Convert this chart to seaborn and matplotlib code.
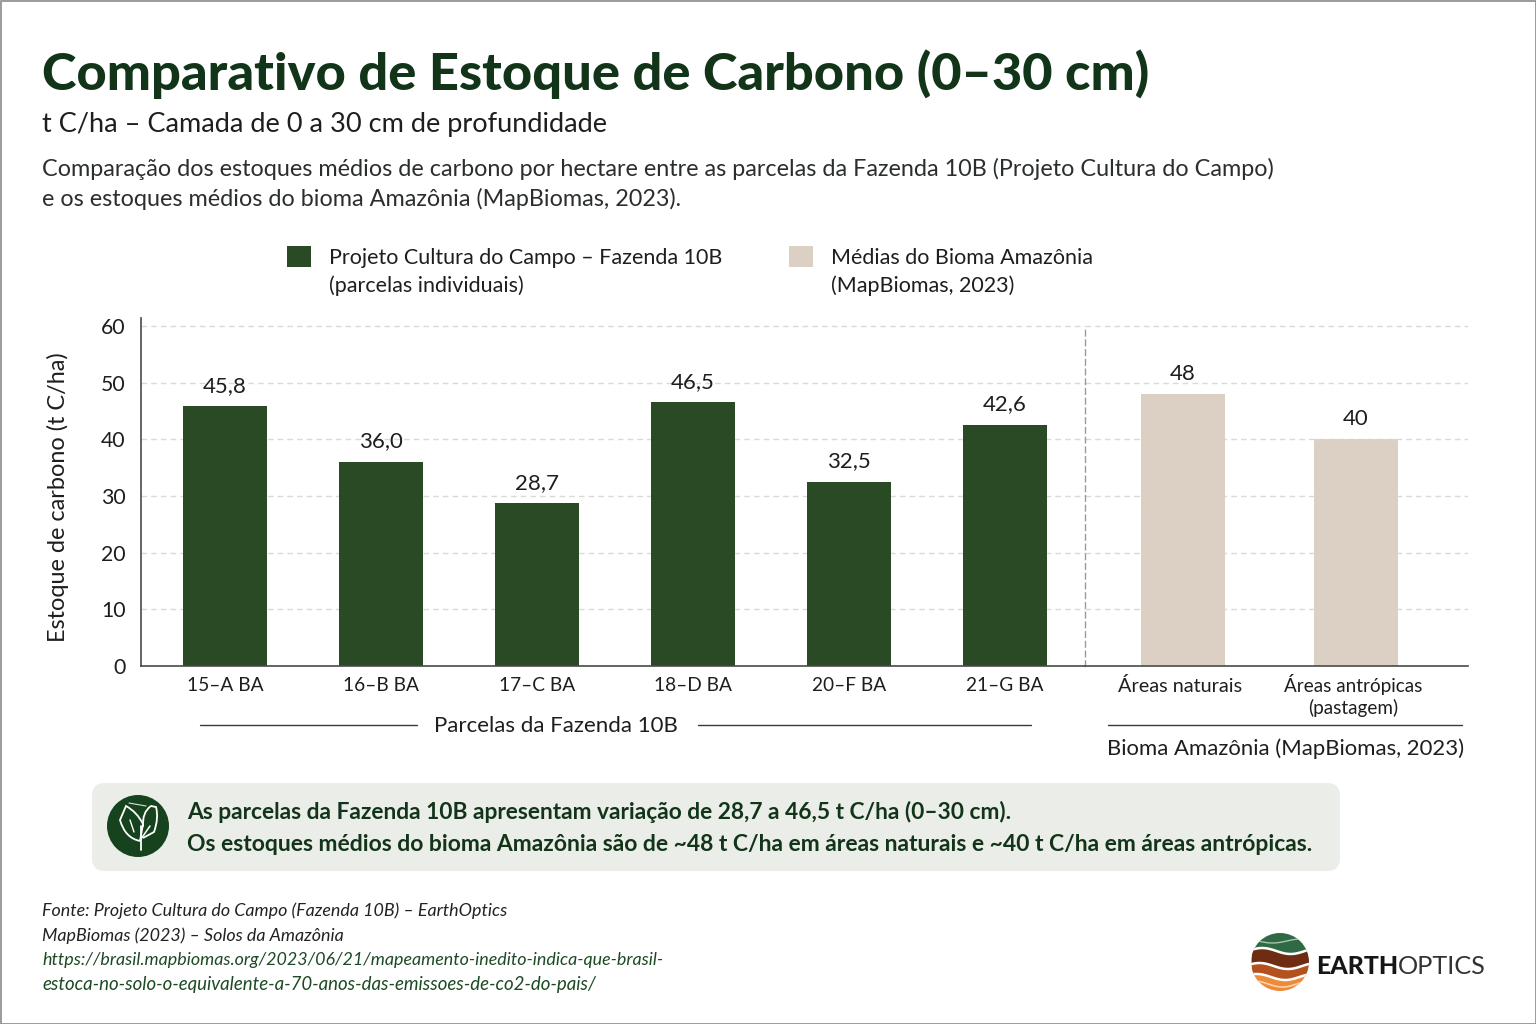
import numpy as np
import pandas as pd
import matplotlib
matplotlib.use("Agg")
import matplotlib.pyplot as plt
from matplotlib.patches import Patch, FancyBboxPatch, Circle, PathPatch, Rectangle
from matplotlib.path import Path
from matplotlib.transforms import ScaledTranslation
import seaborn as sns

parcelas = ["15–A BA", "16–B BA", "17–C BA", "18–D BA", "20–F BA", "21–G BA"]
estoque_parcelas = [45.8, 36.0, 28.7, 46.5, 32.5, 42.6]
rotulos_parcelas = ["45,8", "36,0", "28,7", "46,5", "32,5", "42,6"]
bioma = ["Áreas naturais", "Áreas antrópicas\n(pastagem)"]
estoque_bioma = [48, 40]
rotulos_bioma = ["48", "40"]
yticks = [0, 10, 20, 30, 40, 50, 60]

DARK = "#2a4a25"
TAN = "#dccfc3"
TITLE = "#12351a"
INK = "#1c1f1c"
GRID = "#d9d9d6"
FONT = "Lato"

sns.set_theme(style="white")
plt.rcParams["font.family"] = [FONT, "DejaVu Sans"]

W, H = 1536, 1024
fig = plt.figure(figsize=(W / 100, H / 100), dpi=100, facecolor="white")
bg = fig.add_axes([0, 0, 1, 1], zorder=0)
bg.set_xlim(0, W); bg.set_ylim(H, 0); bg.axis("off")


def axes_px(x0, y0, x1, y1):
    return fig.add_axes([x0 / W, 1 - y1 / H, (x1 - x0) / W, (y1 - y0) / H], zorder=1, facecolor="none")


YMAX = 61.4
left = axes_px(141, 318, 1085, 666)
right = axes_px(1085, 318, 1468, 666)

df_l = pd.DataFrame({"parcela": parcelas, "estoque": estoque_parcelas})
df_r = pd.DataFrame({"area": bioma, "estoque": estoque_bioma})
sns.barplot(data=df_l, x="parcela", y="estoque", color=DARK, saturation=1, width=0.535, linewidth=0, ax=left)
sns.barplot(data=df_r, x="area", y="estoque", color=TAN, saturation=1, width=0.485, linewidth=0, ax=right)

left.set_xlim(-0.538, 5.513)
right.set_xlim(-0.566, 1.647)

for ax, labels in ((left, rotulos_parcelas), (right, rotulos_bioma)):
    ax.set_ylim(0, YMAX)
    ax.set_yticks(yticks)
    ax.set_xlabel("")
    ax.set_ylabel("")
    ax.yaxis.grid(True, color=GRID, linestyle=(0, (4, 3)), linewidth=1)
    ax.set_axisbelow(True)
    ax.bar_label(ax.containers[0], labels=labels, padding=7.5, fontsize=16, color=INK)
    ax.tick_params(axis="x", length=0, pad=8, labelsize=13.8, labelcolor=INK)
    for s in ("top", "right"):
        ax.spines[s].set_visible(False)
    ax.spines["bottom"].set_color("#4a4a4a")
    ax.spines["bottom"].set_linewidth(1.2)

left.tick_params(axis="y", length=0, pad=11, labelsize=15.3, labelcolor=INK)
left.set_ylabel("Estoque de carbono (t C/ha)", fontsize=16.9, color=INK)
left.yaxis.set_label_coords((69 - 141) / 944, (666 - 497) / 348)
left.spines["left"].set_color("#4a4a4a")
left.spines["left"].set_linewidth(1.2)

right.tick_params(axis="y", left=False, labelleft=False)
right.spines["left"].set_color("#9a9a9a")
right.spines["left"].set_linestyle((0, (4, 3)))
right.spines["left"].set_linewidth(1)
right.spines["left"].set_bounds(0, 60)
for lab, size, dy in zip(right.get_xticklabels(), (14.3, 13.6), (0, 3)):
    lab.set_linespacing(1.25)
    lab.set_fontsize(size)
    lab.set_transform(lab.get_transform() + ScaledTranslation(-3.3 / 100, dy / 100, fig.dpi_scale_trans))

# titles
bg.text(42, 90, "Comparativo de Estoque de Carbono (0–30 cm)", fontsize=37.7, fontweight="black",
        color=TITLE, va="baseline")
bg.text(42, 132, "t C/ha – Camada de 0 a 30 cm de profundidade", fontsize=19.5, color=INK, va="baseline")
desc = ["Comparação dos estoques médios de carbono por hectare entre as parcelas da Fazenda 10B (Projeto Cultura do Campo)",
        "e os estoques médios do bioma Amazônia (MapBiomas, 2023)."]
for y, t in zip((176, 206), desc):
    bg.text(42, y, t, fontsize=16.8, color="#2b2f2b", va="baseline")

# legend
handles = [Patch(facecolor=DARK, edgecolor="none"), Patch(facecolor="none", edgecolor="none"),
           Patch(facecolor=TAN, edgecolor="none"), Patch(facecolor="none", edgecolor="none")]
labels = ["Projeto Cultura do Campo – Fazenda 10B", "(parcelas individuais)",
          "Médias do Bioma Amazônia", "(MapBiomas, 2023)"]
fig.legend(handles, labels, ncol=2, loc="upper left", bbox_to_anchor=(287 / W, 1 - 246 / H), frameon=False,
           fontsize=15.45, labelcolor=INK, handlelength=1.12, handleheight=1.12, handletextpad=0.84,
           columnspacing=3.09, labelspacing=0.32, borderpad=0, borderaxespad=0)

# group labels
bg.plot([200, 417], [725, 725], color="#3a3a3a", lw=1)
bg.plot([698, 1031], [725, 725], color="#3a3a3a", lw=1)
bg.text(556, 732, "Parcelas da Fazenda 10B", fontsize=16, color=INK, ha="center", va="baseline")
bg.plot([1108, 1462], [725, 725], color="#3a3a3a", lw=1)
bg.text(1285.5, 755, "Bioma Amazônia (MapBiomas, 2023)", fontsize=15.9, color=INK, ha="center", va="baseline")

# callout
bg.add_patch(FancyBboxPatch((92, 783), 1248, 88, boxstyle="round,pad=0,rounding_size=13", fc="#ebede8", ec="none"))
bg.add_patch(Circle((138, 826), 31, fc="#17421e", ec="none", zorder=3))
bg.plot([141, 141], [850, 826], color="white", lw=1.3, zorder=4)
for pts in ([(140, 841), (125, 838), (120, 820), (126, 806), (137, 812), (143, 824), (140, 841)],
            [(143, 827), (142, 812), (151, 806), (156, 807), (159, 818), (154, 832), (143, 838)]):
    codes = [Path.MOVETO, Path.CURVE3, Path.CURVE3, Path.LINETO, Path.CURVE3, Path.CURVE3, Path.LINETO]
    bg.add_patch(PathPatch(Path(pts, codes), fc="none", ec="white", lw=1.3, zorder=4))
bg.plot([141, 150], [839, 826], color="white", lw=1.1, zorder=4)
bg.plot([130, 134], [820, 832], color="white", lw=1.0, zorder=4)
bg.plot([129, 146], [803, 806], color="#d8e0d6", lw=0.8, zorder=4)

bg.text(187, 819, "As parcelas da Fazenda 10B apresentam variação de 28,7 a 46,5 t C/ha (0–30 cm).",
        fontsize=16.4, fontweight="bold", color=TITLE, va="baseline")
bg.text(187, 851, "Os estoques médios do bioma Amazônia são de ~48 t C/ha em áreas naturais e ~40 t C/ha em áreas antrópicas.",
        fontsize=16.45, fontweight="bold", color=TITLE, va="baseline")

# sources
src = [("Fonte: Projeto Cultura do Campo (Fazenda 10B) – EarthOptics", "#222", 12.85),
       ("MapBiomas (2023) – Solos da Amazônia", "#222", 12.85),
       ("https://brasil.mapbiomas.org/2023/06/21/mapeamento-inedito-indica-que-brasil-", "#1d4a24", 12.9),
       ("estoca-no-solo-o-equivalente-a-70-anos-das-emissoes-de-co2-do-pais/", "#1d4a24", 13.4)]
for y, (t, c, s) in zip((916, 941, 965, 990), src):
    bg.text(42, y, t, fontsize=s, style="italic", color=c, va="baseline")

# logo
cx, cy, r = 1280, 962, 29
clip = Circle((cx, cy), r, transform=bg.transData)
xs = np.linspace(cx - r, cx + r, 80)
u = (xs - cx) / r


def wave(base, amp, shift=0.0):
    return base + amp * np.sin(u * 3.2 + shift)


edges = [(925, None), (wave(951, 3, 0.4), "#2f6a45"), (wave(966, 3, 0.7), "#6e2d13"),
         (wave(977, 3, 1.0), "#b3521f"), (1000, "#ee8a38")]
prev = edges[0][0]
for e, col in edges[1:]:
    poly = bg.fill_between(xs, prev, e, color=col, lw=0, zorder=3)
    poly.set_clip_path(clip)
    prev = e
for base, amp, sh, lw, col in ((951, 3, 0.4, 1.8, "white"), (966, 3, 0.7, 1.8, "white"),
                               (977, 3, 1.0, 1.8, "white"), (941, 2, 2.4, 1.0, "#a9c4a8"),
                               (984, 3, 1.3, 1.2, "#fbd3ab")):
    ln, = bg.plot(xs, wave(base, amp, sh), color=col, lw=lw, zorder=4)
    ln.set_clip_path(clip)
bg.text(1316, 974, "EARTH", fontsize=17.9, fontweight="black", color="#161616", va="baseline")
bg.text(1398, 974, "OPTICS", fontsize=18.2, fontweight="normal", color="#333", va="baseline")

# border
bg.add_patch(Rectangle((0.5, 0.5), W - 1, H - 1, fc="none", ec="#8a8a8a", lw=1.2, zorder=6))

fig.savefig("out.png", dpi=100)
